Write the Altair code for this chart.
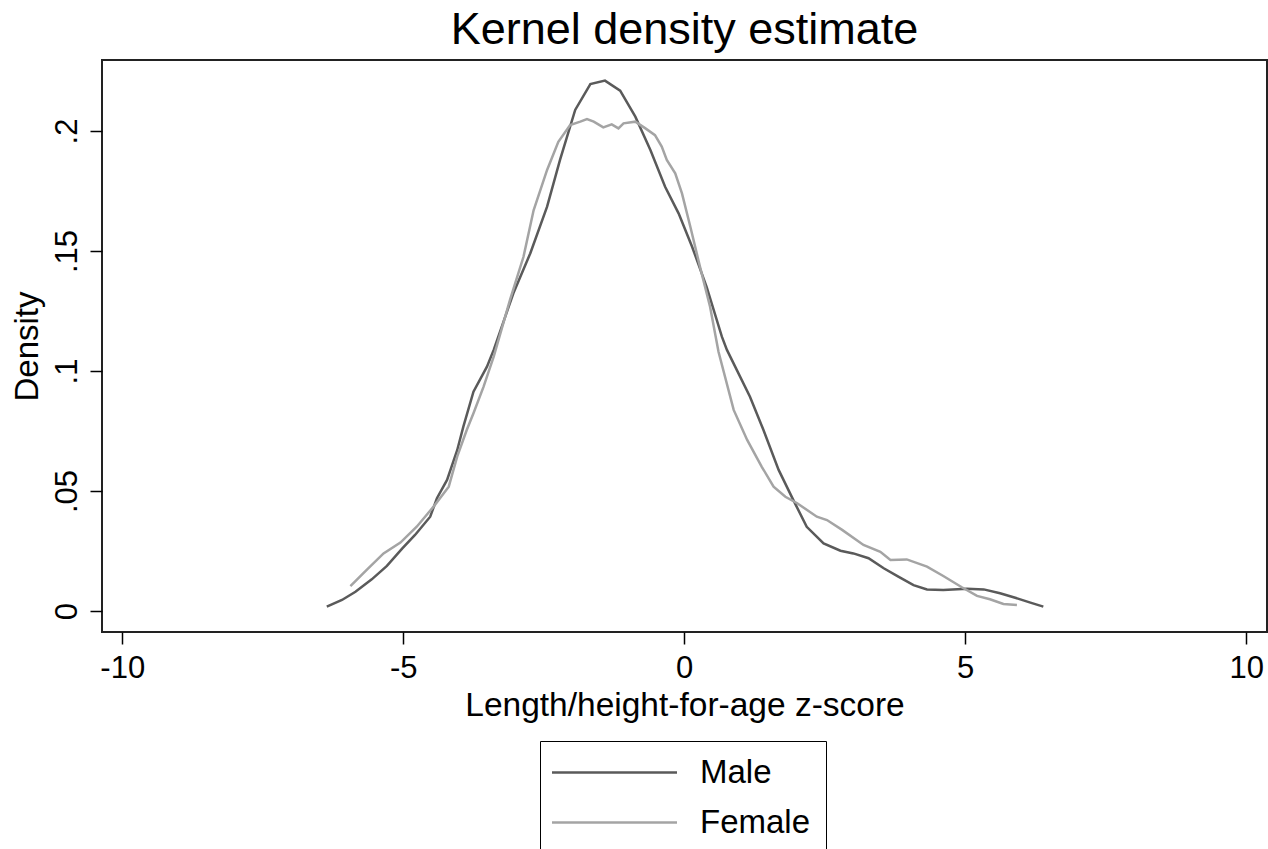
import altair as alt
import pandas as pd

male_z = [-6.36, -6.09, -5.85, -5.56, -5.29, -5.02, -4.79, -4.52, -4.40, -4.22,
          -4.04, -3.93, -3.75, -3.51, -3.39, -3.04, -2.74, -2.44, -2.21, -1.94,
          -1.67, -1.41, -1.14, -0.87, -0.60, -0.34, -0.10, 0.14, 0.40, 0.67,
          0.76, 1.17, 1.41, 1.68, 1.94, 2.18, 2.48, 2.78, 3.01, 3.28,
          3.55, 3.81, 4.08, 4.32, 4.61, 5.03, 5.33, 5.62, 5.89, 6.16, 6.39]
male_d = [0.0018, 0.0046, 0.0080, 0.0132, 0.0188, 0.0260, 0.0317, 0.0393, 0.0470, 0.0546,
          0.0670, 0.0768, 0.0914, 0.1018, 0.1088, 0.1324, 0.1490, 0.1685, 0.1880, 0.2088,
          0.2196, 0.2210, 0.2168, 0.2060, 0.1920, 0.1768, 0.1657, 0.1518, 0.1350, 0.1143,
          0.1088, 0.0893, 0.0754, 0.0588, 0.0463, 0.0351, 0.0282, 0.0251, 0.0240, 0.0220,
          0.0178, 0.0143, 0.0108, 0.0090, 0.00875, 0.0093, 0.0090, 0.0074, 0.0055, 0.0035, 0.0018]

female_z = [-5.94, -5.65, -5.35, -5.05, -4.76, -4.46, -4.19, -4.04, -3.87, -3.75,
            -3.57, -3.39, -3.10, -2.86, -2.68, -2.44, -2.24, -2.03, -1.85, -1.73,
            -1.61, -1.44, -1.29, -1.17, -1.08, -0.87, -0.69, -0.52, -0.40, -0.31,
            -0.16, -0.04, 0.11, 0.28, 0.46, 0.61, 0.88, 1.12, 1.38, 1.59,
            1.80, 2.01, 2.36, 2.54, 2.81, 3.19, 3.49, 3.67, 3.96, 4.32,
            4.61, 4.94, 5.21, 5.44, 5.68, 5.92]
female_d = [0.0104, 0.0171, 0.0240, 0.0285, 0.0351, 0.0435, 0.0518, 0.0643, 0.0754, 0.0824,
            0.0935, 0.1060, 0.1296, 0.1476, 0.1670, 0.1838, 0.1955, 0.2025, 0.2039, 0.2050,
            0.2039, 0.2015, 0.2028, 0.2011, 0.2032, 0.2039, 0.2011, 0.1983, 0.1935, 0.1880,
            0.1824, 0.1740, 0.1600, 0.1435, 0.1268, 0.1080, 0.0838, 0.0713, 0.0601, 0.0518,
            0.0476, 0.0449, 0.0393, 0.0379, 0.0338, 0.0275, 0.0247, 0.0213, 0.0215, 0.0185,
            0.0146, 0.0099, 0.0063, 0.0049, 0.0029, 0.0025]

series = ["Male", "Female"]
colors = ["#5a5a5a", "#a4a4a4"]
x_ticks = [-10, -5, 0, 5, 10]
y_ticks = [0, 0.05, 0.1, 0.15, 0.2]

rows = []
for i, (z, d) in enumerate(zip(male_z, male_d)):
    rows.append({"z": z, "density": d, "sex": "Male", "order": i})
for i, (z, d) in enumerate(zip(female_z, female_d)):
    rows.append({"z": z, "density": d, "sex": "Female", "order": i})
df = pd.DataFrame(rows)

FONT = "Liberation Sans"

chart = alt.Chart(df).mark_line(strokeWidth=2.5).encode(
    x=alt.X("z:Q",
            scale=alt.Scale(domain=[-10.36, 10.37], nice=False, zero=False),
            axis=alt.Axis(values=x_ticks, title="Length/height-for-age z-score",
                          labelExpr="datum.value < 0 ? '-' + abs(datum.value) : '' + datum.value",
                          grid=False, domain=False, tickSize=12, tickWidth=1.5,
                          tickColor="black", labelFontSize=31, labelColor="black",
                          labelBaseline="alphabetic", labelPadding=33,
                          titleFontSize=33.5, titleFontWeight="normal", titleColor="black",
                          titlePadding=6, labelFlush=False)),
    y=alt.Y("density:Q",
            scale=alt.Scale(domain=[-0.00875, 0.2296], nice=False, zero=False),
            axis=alt.Axis(values=y_ticks, title="Density",
                          labelExpr="datum.value == 0 ? '0' : substring(format(datum.value, '~g'), 1)",
                          grid=False, domain=False, tickSize=12, tickWidth=1.5,
                          tickColor="black", labelFontSize=31, labelColor="black",
                          labelAngle=270, labelAlign="center", labelBaseline="alphabetic",
                          labelPadding=14, titleFontSize=33, titleFontWeight="normal",
                          titleColor="black", titlePadding=7, labelFlush=False)),
    color=alt.Color("sex:N",
                    scale=alt.Scale(domain=series, range=colors),
                    legend=alt.Legend(title=None, orient="none", legendX=438, legendY=681,
                                      direction="vertical",
                                      symbolType="M-5,0H5", symbolSize=625,
                                      symbolStrokeWidth=2.5, symbolFillColor="transparent",
                                      symbolOffset=43, labelOffset=69,
                                      labelFontSize=33, labelColor="black", labelFont=FONT,
                                      rowPadding=16, padding=15,
                                      strokeColor="black")),
    detail="sex:N",
    order="order:Q",
).properties(
    width=1165,
    height=572,
    title=alt.TitleParams("Kernel density estimate", fontSize=45, font=FONT,
                          fontWeight="normal", color="black", anchor="middle", offset=7),
    autosize=alt.AutoSizeParams(type="none"),
    padding={"left": 102, "top": 60, "right": 1, "bottom": 217},
).configure(
    font=FONT,
).configure_view(
    stroke="#222222",
    strokeWidth=2,
).configure_axis(
    labelFont=FONT,
    titleFont=FONT,
)

chart.save("out.html", embed_options={"renderer": "svg", "actions": False})
